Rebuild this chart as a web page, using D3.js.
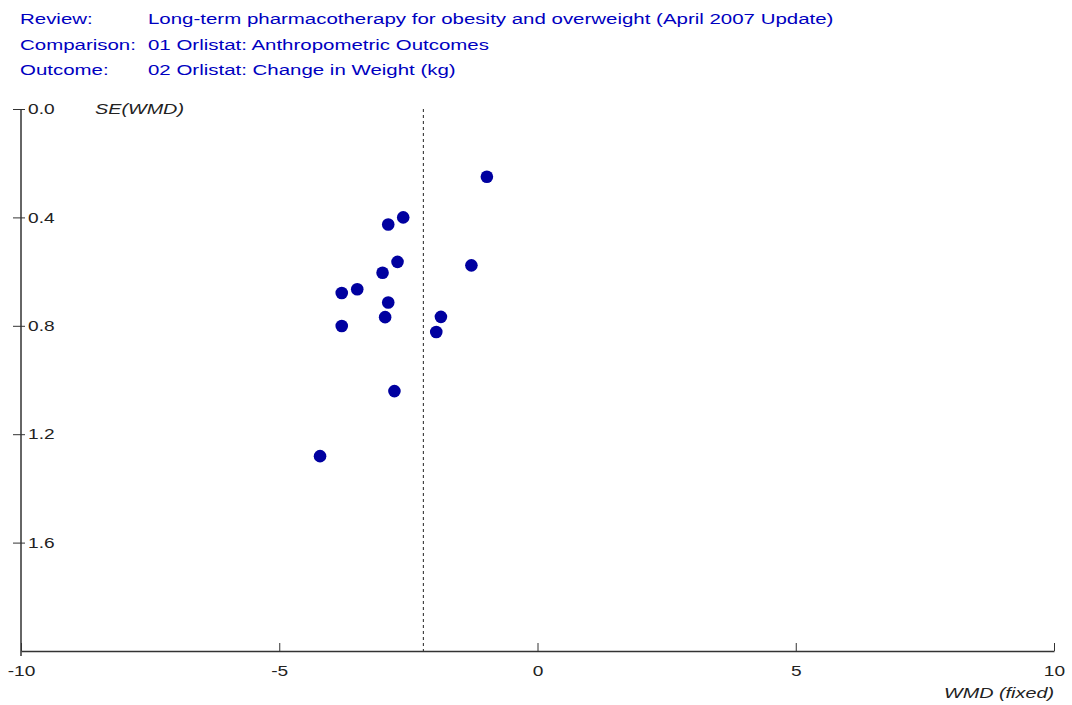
<!DOCTYPE html>
<html>
<head>
<meta charset="utf-8">
<script src="https://cdn.jsdelivr.net/npm/d3@7"></script>
<style>
  body { margin: 0; background: #fff; }
  text { font-family: "Liberation Sans", Arial, sans-serif; }
</style>
</head>
<body>
<div id="main"></div>
<script>
(function(){

  const headerLabels = ['Review:', 'Comparison:', 'Outcome:']
  const headerValues = [
    'Long-term pharmacotherapy for obesity and overweight (April 2007 Update)',
    '01 Orlistat: Anthropometric Outcomes',
    '02 Orlistat: Change in Weight (kg)'
  ]

  // WMD and SE(WMD) for each study
  const wmd = [-0.98, -2.60, -2.89, -2.71, -1.28, -3.00, -3.49, -3.79, -2.89, -2.95, -1.87, -3.79, -1.96, -2.77, -4.21]
  const se  = [0.25, 0.40, 0.426, 0.564, 0.577, 0.604, 0.665, 0.679, 0.714, 0.768, 0.767, 0.801, 0.823, 1.041, 1.281]
  const pooled = -2.21

  const xTicks = [-10, -5, 0, 5, 10]
  const yTicks = [0, 0.4, 0.8, 1.2, 1.6]

  const width = 1072
  const height = 705
  const margin = { top: 109, right: 18, bottom: 54, left: 21 }
  const stretch = 1.32 // the original text is drawn wide

  const svg = d3.select('#main').append('svg')
    .attr('width', width)
    .attr('height', height)

  const addText = (g, x, y, t) => g.append('text')
    .attr('transform', `translate(${x},${y}) scale(${stretch},1)`)
    .text(t)

  const header = svg.append('g').attr('fill', '#0000c0').style('font-size', '15.5px')
  headerLabels.forEach((t, i) => {
    addText(header, 20, 24 + i * 25.5, t)
    addText(header, 148, 24 + i * 25.5, headerValues[i])
  })

  const xScale = d3.scaleLinear()
    .domain([-10, 10])
    .range([margin.left, width - margin.right])

  const yScale = d3.scaleLinear()
    .domain([0, 2])
    .range([margin.top, height - margin.bottom])

  const xAxis = d3.axisTop(xScale)
    .tickValues(xTicks)
    .tickSize(8)
    .tickSizeOuter(0)
    .tickFormat(d => String(d))

  const gx = svg.append('g')
    .attr('transform', `translate(0,${yScale(2)})`)
    .call(xAxis)
  gx.select('.domain').attr('stroke', '#333').attr('stroke-width', 1.5)
  gx.selectAll('.tick line').attr('stroke', '#333')
  gx.selectAll('.tick text')
    .attr('y', 0)
    .attr('transform', `translate(0,25) scale(${stretch},1)`)
    .attr('fill', '#222')
    .style('font-size', '14.5px')

  const yAxis = d3.axisRight(yScale)
    .tickValues(yTicks)
    .tickSize(4)
    .tickSizeOuter(0)
    .tickFormat(d3.format('.1f'))

  const gy = svg.append('g')
    .attr('transform', `translate(${xScale(-10)},0)`)
    .call(yAxis)
  gy.select('.domain').attr('stroke', '#333').attr('stroke-width', 1.5)
    .attr('d', `M0,${yScale(0)}V${yScale(2) + 5}`)
  gy.selectAll('.tick line').attr('x1', -8).attr('stroke', '#333')
  gy.selectAll('.tick text')
    .attr('x', 0)
    .attr('transform', `translate(7,0) scale(${stretch},1)`)
    .attr('fill', '#222')
    .style('font-size', '14.5px')

  const labels = svg.append('g')
    .style('font-size', '15px')
    .style('font-style', 'italic')
    .attr('fill', '#222')

  addText(labels, 95, yScale(0) + 5, 'SE(WMD)')
  addText(labels, xScale(10), yScale(2) + 47, 'WMD (fixed)')
    .attr('text-anchor', 'end')

  svg.append('line')
    .attr('x1', xScale(pooled))
    .attr('x2', xScale(pooled))
    .attr('y1', yScale(0))
    .attr('y2', yScale(2))
    .attr('stroke', '#222')
    .attr('stroke-width', 1)
    .attr('stroke-dasharray', '3,3')

  svg.append('g')
    .selectAll('circle')
    .data(wmd)
    .join('circle')
    .attr('cx', d => xScale(d))
    .attr('cy', (d, i) => yScale(se[i]))
    .attr('r', 6.3)
    .attr('fill', '#0000a0')
}())
</script>
</body>
</html>
